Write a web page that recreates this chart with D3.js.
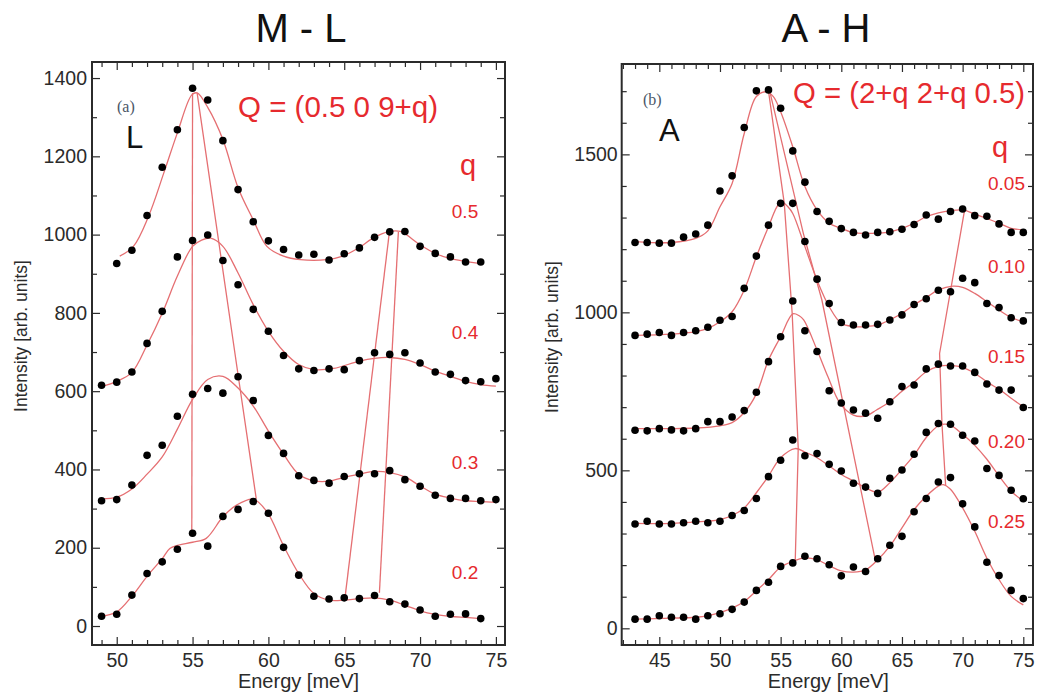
<!DOCTYPE html>
<html>
<head>
<meta charset="utf-8">
<script src="https://cdn.jsdelivr.net/npm/d3@7"></script>
<style>
  body { margin: 0; background: #fff; }
  svg { display: block; font-family: "Liberation Sans", Arial, sans-serif; }
</style>
</head>
<body>
<div id="chart"></div>
<script>
// ---------- data ----------

// panel (a): M - L, Q = (0.5 0 9+q)
const energyA05 = [50,51,52,53,54,55,56,57,58,59,60,61,62,63,64,65,66,67,68,69,70,71,72,73,74];
const energyA = [49,50,51,52,53,54,55,56,57,58,59,60,61,62,63,64,65,66,67,68,69,70,71,72,73,74,75];
const energyA02 = [49,50,51,52,53,54,55,56,57,58,59,60,61,62,63,64,65,66,67,68,69,70,71,72,73,74];

const countsA05 = [926,960,1049,1172,1268,1374,1344,1240,1115,1033,984,962,948,950,935,951,966,993,1007,1008,970,952,943,930,930];
const countsA04 = [615,623,649,722,804,943,985,999,934,872,809,753,691,657,653,657,655,678,698,694,698,672,649,643,627,624,632];
const countsA03 = [320,323,360,436,462,536,592,607,595,637,576,487,441,384,372,365,382,389,389,397,374,357,334,326,326,320,323];
const countsA02 = [25,30,79,134,164,196,237,204,280,298,318,288,201,130,76,69,72,70,78,62,56,41,25,30,31,19];

// fitted curves [energy, intensity]
const fitA05 = [[50.2,945],[51.1,970],[52.1,1047],[53.1,1157],[54,1260],[54.95,1357],[55.3,1362],[56,1325],[57,1243],[58,1120],[59,1038],[59.9,970],[61,945],[62.1,936],[63.85,936],[64.9,945],[65.95,966],[66.9,991],[68,1008],[68.7,1008],[70,974],[70.95,953],[71.9,940],[74,926]];
const fitA04 = [[49,612],[50,625],[51,648],[52,718],[53,799],[54,894],[55,970],[55.6,986],[56.2,991],[57,970],[58,902],[59,821],[60,753],[61,702],[62,668],[63,655],[64.3,658],[66,677],[67,684],[68,686],[69,681],[70,668],[71,651],[72,638],[73,625],[74,617],[75,613]];
const fitA03 = [[49,325],[50,329],[51,350],[52,388],[53,432],[54,503],[55,579],[56,630],[57,638],[58,608],[59,562],[60,498],[61,439],[62,388],[63,371],[64,370],[65,380],[66,388],[67,395],[68,392],[69,381],[70,358],[71,337],[72,327],[73,320],[74,318],[75,316]];
const fitA02 = [[49,25],[50,36],[51,76],[52,127],[53,172],[53.5,198],[54,206],[55,214],[55.9,224],[57,279],[57.9,309],[59,324],[59.9,292],[61,205],[62,134],[63,83],[64,66],[65,66],[66,70],[67,72],[68,66],[69,53],[70,39],[71,30],[72,25],[73,22],[74,19]];

// dispersion guide lines
const guidesA = [
  [[55.0,1362],[54.95,240]],
  [[55.3,1362],[58.0,642],[59.2,325]],
  [[67.98,1007],[65.06,75]],
  [[68.57,1007],[67.32,85]]
];

// panel (b): A - H, Q = (2+q 2+q 0.5)
const energyB = [43,44,45,46,47,48,49,50,51,52,53,54,55,56,57,58,59,60,61,62,63,64,65,66,67,68,69,70,71,72,73,74,75];

const countsB005 = [1221,1221,1219,1219,1238,1248,1276,1384,1432,1585,1701,1704,1646,1511,1412,1319,1288,1265,1253,1245,1253,1255,1263,1278,1308,1295,1319,1327,1306,1304,1280,1253,1253];
const countsB010 = [927,931,936,927,936,942,953,975,987,1076,1178,1276,1345,1345,1224,1105,1028,968,960,960,962,976,992,1025,1043,1070,1065,1108,1094,1028,1015,983,973];
const countsB015 = [627,625,632,628,625,632,654,654,669,689,747,844,923,1036,942,876,752,713,691,681,665,717,765,770,821,836,830,830,810,773,754,754,699];
const countsB020 = [330,339,330,330,334,339,334,339,357,373,411,480,532,596,546,553,519,498,459,447,427,475,501,551,620,648,646,611,593,506,484,437,410];
const countsB025 = [29,29,40,35,35,29,40,46,60,83,120,146,196,207,228,220,201,166,194,180,220,263,291,369,411,463,477,394,321,209,167,120,94];

const fitB005 = [[43,1224],[46,1221],[48,1234],[49,1258],[50,1334],[51,1408],[52,1566],[53,1683],[53.85,1698],[54.4,1683],[55,1635],[56,1524],[57,1398],[58,1324],[59,1282],[60,1266],[61,1252],[62,1250],[64,1255],[65,1266],[66,1282],[67,1303],[68,1315],[69,1322],[70,1324],[71,1311],[72,1297],[73,1282],[74,1266],[75,1261]];
const fitB010 = [[43,927],[46,931],[48,939],[49,949],[50,970],[51,1002],[52,1071],[53,1176],[54,1271],[54.8,1340],[55.2,1347],[55.6,1334],[56,1313],[57,1208],[58,1102],[59,1018],[60,965],[61,955],[62,955],[63,960],[64,976],[65,997],[66,1024],[67,1047],[68,1071],[69.2,1083],[70,1079],[71,1060],[72,1034],[73,1007],[74,984],[75,970]];
const fitB015 = [[43,632],[46,632],[48,634],[50,641],[51,651],[52,683],[53,742],[54,849],[55,923],[56,995],[56.5,990],[56.9,976],[58,881],[58.9,796],[59.9,712],[61,675],[62,672],[62.9,691],[64,717],[65,750],[66,779],[67,812],[68.1,830],[69,832],[70,826],[71,807],[72,780],[73.1,754],[74,728],[75,701]];
const fitB020 = [[43,332],[46,332],[49,339],[50,344],[51,357],[52,381],[53,429],[54,482],[55,540],[56.2,569],[57,558],[58,540],[59,514],[60,487],[61,466],[62,445],[63,431],[64,461],[65,503],[66,548],[67,604],[68,641],[68.5,646],[69,643],[70,614],[71,579],[72,535],[73,482],[74,434],[75,403]];
const fitB025 = [[43,29],[46,32],[48,35],[49,40],[50,50],[51,64],[52,85],[53,119],[54,154],[55,194],[56,212],[57,223],[58,217],[59,198],[60,182],[61,178],[62,185],[63,217],[64,260],[65,318],[66,376],[67,418],[68,450],[68.4,455],[69,440],[70,381],[71,307],[72,222],[73,154],[74,101],[75,74]];

const guidesB = [
  [[54.0,1700],[55.3,1345],[55.95,997],[56.45,570],[56.2,210]],
  [[54.1,1700],[56.87,1250],[58.4,1039],[62.8,216]],
  [[70.2,1332],[68.1,870],[68.3,645],[68.6,452]]
];

// ticks
const xTicksA = [50,55,60,65,70,75];
const xMinorA = [49,51,52,53,54,56,57,58,59,61,62,63,64,66,67,68,69,71,72,73,74];
const yTicksA = [0,200,400,600,800,1000,1200,1400];
const yMinorA = [100,300,500,700,900,1100,1300];
const xTicksB = [45,50,55,60,65,70,75];
const xMinorB = [42,43,44,46,47,48,49,51,52,53,54,56,57,58,59,61,62,63,64,66,67,68,69,71,72,73,74];
const yTicksB = [0,500,1000,1500];
const yMinorB = [100,200,300,400,600,700,800,900,1100,1200,1300,1400,1600,1700];

const qLabelsA = ["0.5","0.4","0.3","0.2"];
const qLabelsB = ["0.05","0.10","0.15","0.20","0.25"];

// ---------- drawing ----------
const W = 1039, H = 695;
const red = "#e62a2e";
const fitRed = "#e56f72";
const ink = "#2b2b2b";

const svg = d3.select("#chart").append("svg")
    .attr("width", W)
    .attr("height", H);

function drawPanel(p) {
    const x = d3.scaleLinear().domain(p.xDomain).range([p.left, p.right]);
    const y = d3.scaleLinear().domain(p.yDomain).range([p.bottom, p.top]);
    const g = svg.append("g");
    const fmt = d3.format("d");

    // ticks, all pointing inward
    const major = 8, minor = 5;
    const axes = [
        [d3.axisBottom(x).tickValues(p.xTicks).tickSize(-major).tickPadding(8.5).tickFormat(fmt), `translate(0,${p.bottom})`],
        [d3.axisBottom(x).tickValues(p.xMinor).tickSize(-minor).tickFormat(""), `translate(0,${p.bottom})`],
        [d3.axisTop(x).tickValues(p.xTicks).tickSize(-major).tickFormat(""), `translate(0,${p.top})`],
        [d3.axisTop(x).tickValues(p.xMinor).tickSize(-minor).tickFormat(""), `translate(0,${p.top})`],
        [d3.axisLeft(y).tickValues(p.yTicks).tickSize(-major).tickPadding(p.yPad).tickFormat(fmt), `translate(${p.left},0)`],
        [d3.axisLeft(y).tickValues(p.yMinor).tickSize(-minor).tickFormat(""), `translate(${p.left},0)`],
        [d3.axisRight(y).tickValues(p.yTicks).tickSize(-major).tickFormat(""), `translate(${p.right},0)`],
        [d3.axisRight(y).tickValues(p.yMinor).tickSize(-minor).tickFormat(""), `translate(${p.right},0)`]
    ];
    axes.forEach(([ax, tr]) => {
        const a = g.append("g").attr("transform", tr).call(ax);
        a.select(".domain").remove();
        a.selectAll("line").attr("stroke", ink).attr("stroke-width", 1.2);
        a.selectAll("text")
            .attr("fill", ink)
            .style("font-size", "19.5px")
            .style("font-family", "'Liberation Sans', Arial, sans-serif");
    });

    // frame
    g.append("rect")
        .attr("x", p.left).attr("y", p.top)
        .attr("width", p.right - p.left).attr("height", p.bottom - p.top)
        .attr("fill", "none").attr("stroke", ink).attr("stroke-width", 2);

    const curve = d3.line().x(d => x(d[0])).y(d => y(d[1])).curve(d3.curveCatmullRom.alpha(0.5));
    const straight = d3.line().x(d => x(d[0])).y(d => y(d[1]));

    g.selectAll("path.fit")
        .data(p.fits)
        .join("path")
        .attr("class", "fit")
        .attr("d", curve)
        .attr("fill", "none")
        .attr("stroke", fitRed)
        .attr("stroke-width", 1.3);

    g.selectAll("path.guide")
        .data(p.guides)
        .join("path")
        .attr("class", "guide")
        .attr("d", straight)
        .attr("fill", "none")
        .attr("stroke", fitRed)
        .attr("stroke-width", 1.3);

    p.series.forEach(s => {
        g.append("g").selectAll("circle")
            .data(s.values.map((v, i) => [s.energy[i], v]))
            .join("circle")
            .attr("cx", d => x(d[0]))
            .attr("cy", d => y(d[1]))
            .attr("r", 3.8)
            .attr("fill", "#000");
    });

    // axis titles
    g.append("text")
        .attr("x", (p.left + p.right) / 2 + p.xTitleShift)
        .attr("y", 688)
        .attr("text-anchor", "middle")
        .attr("fill", ink)
        .style("font-size", "20px")
        .text("Energy [meV]");

    g.append("text")
        .attr("transform", `translate(${p.yTitleX},${p.yTitleY}) rotate(-90)`)
        .attr("text-anchor", "middle")
        .attr("fill", ink)
        .style("font-size", "17.5px")
        .text("Intensity [arb. units]");

    // panel title
    svg.append("text")
        .attr("x", p.titleX)
        .attr("y", 42)
        .attr("text-anchor", "middle")
        .attr("fill", "#111")
        .style("font-size", "40px")
        .text(p.title);

    return g;
}

const gA = drawPanel({
    left: 92, right: 505, top: 62, bottom: 645,
    xDomain: [48.37, 75.6], yDomain: [-48.5, 1441],
    xTicks: xTicksA, xMinor: xMinorA, yTicks: yTicksA, yMinor: yMinorA, yPad: 5,
    fits: [fitA05, fitA04, fitA03, fitA02],
    guides: guidesA,
    series: [
        { energy: energyA05, values: countsA05 },
        { energy: energyA, values: countsA04 },
        { energy: energyA, values: countsA03 },
        { energy: energyA02, values: countsA02 }
    ],
    xTitleShift: 0, yTitleX: 27, yTitleY: 336,
    titleX: 301, title: "M - L"
});

const gB = drawPanel({
    left: 621.7, right: 1033, top: 64, bottom: 645,
    xDomain: [41.9, 75.8], yDomain: [-52.8, 1786],
    xTicks: xTicksB, xMinor: xMinorB, yTicks: yTicksB, yMinor: yMinorB, yPad: 4,
    fits: [fitB005, fitB010, fitB015, fitB020, fitB025],
    guides: guidesB,
    series: [
        { energy: energyB, values: countsB005 },
        { energy: energyB, values: countsB010 },
        { energy: energyB, values: countsB015 },
        { energy: energyB, values: countsB020 },
        { energy: energyB, values: countsB025 }
    ],
    xTitleShift: 1, yTitleX: 558, yTitleY: 337,
    titleX: 826, title: "A - H"
});

// annotations, panel (a)
gA.append("text").attr("x", 117).attr("y", 112)
    .attr("fill", "#4a5666").style("font-family", "'Liberation Serif', 'Times New Roman', serif").style("font-size", "16px")
    .text("(a)");
gA.append("text").attr("x", 126).attr("y", 148)
    .attr("fill", "#111").style("font-size", "31px").text("L");
gA.append("text").attr("x", 238).attr("y", 117)
    .attr("fill", red).style("font-size", "29.5px").text("Q = (0.5 0 9+q)");
gA.append("text").attr("x", 468).attr("y", 175).attr("text-anchor", "middle")
    .attr("fill", red).style("font-size", "29px").text("q");
const qYA = [218, 339, 469, 579];
qLabelsA.forEach((t, i) => {
    gA.append("text").attr("x", 465).attr("y", qYA[i]).attr("text-anchor", "middle")
        .attr("fill", red).style("font-size", "19px").text(t);
});

// annotations, panel (b)
gB.append("text").attr("x", 643).attr("y", 105)
    .attr("fill", "#4a5666").style("font-family", "'Liberation Serif', 'Times New Roman', serif").style("font-size", "16px")
    .text("(b)");
gB.append("text").attr("x", 659).attr("y", 141)
    .attr("fill", "#111").style("font-size", "31px").text("A");
gB.append("text").attr("x", 793).attr("y", 103)
    .attr("fill", red).style("font-size", "29.3px").text("Q = (2+q 2+q 0.5)");
gB.append("text").attr("x", 1000).attr("y", 157).attr("text-anchor", "middle")
    .attr("fill", red).style("font-size", "29px").text("q");
const qYB = [190, 273, 363, 448, 528];
qLabelsB.forEach((t, i) => {
    gB.append("text").attr("x", 1025).attr("y", qYB[i]).attr("text-anchor", "end")
        .attr("fill", red).style("font-size", "19px").text(t);
});
</script>
</body>
</html>
